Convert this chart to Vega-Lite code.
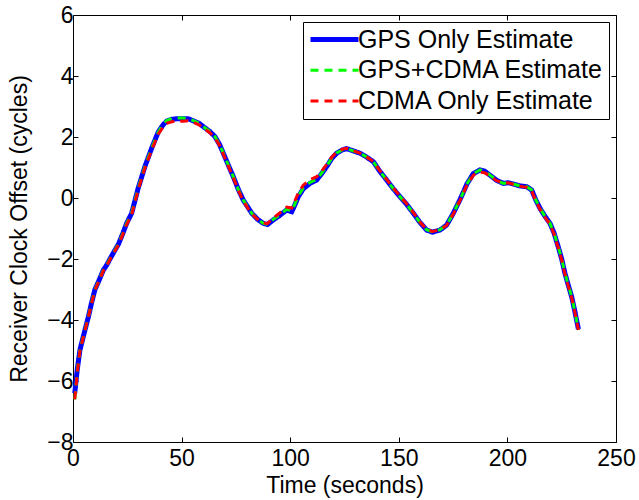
{
  "$schema": "https://vega.github.io/schema/vega-lite/v6.json",
  "autosize": {"type": "none"},
  "width": 543,
  "height": 427,
  "padding": {"left": 73, "top": 15, "right": 23, "bottom": 58},
  "background": "white",
  "config": {
    "font": "Liberation Sans",
    "view": {"stroke": null},
    "axis": {
      "grid": false,
      "domainColor": "black",
      "domainWidth": 1,
      "tickColor": "black",
      "tickWidth": 1,
      "tickSize": -5,
      "labelColor": "black",
      "labelFontSize": 23,
      "labelFlush": false,
      "labelOverlap": false,
      "titleColor": "black",
      "titleFontSize": 23,
      "titleFontWeight": "normal"
    },
    "legend": {
      "orient": "top-right",
      "offset": 7,
      "strokeColor": "black",
      "strokeWidth": 1,
      "fillColor": "white",
      "padding": 5,
      "cornerRadius": 0,
      "labelFontSize": 25,
      "labelColor": "black",
      "labelLimit": 400,
      "labelOffset": 11,
      "symbolType": "M-1.6,0H1.6",
      "symbolSize": 900,
      "symbolOffset": 14,
      "symbolStrokeWidth": 3,
      "rowPadding": 4.7
    }
  },
  "datasets": {
    "curves": [
      {"t": 0.8, "gps": -6.4, "both": -6.6, "cdma": -6.6},
      {"t": 2, "gps": -5.6, "both": -5.65, "cdma": -5.7},
      {"t": 3.2, "gps": -4.98, "both": -4.98, "cdma": -5.0},
      {"t": 5.5, "gps": -4.33, "both": -4.33, "cdma": -4.35},
      {"t": 7.1, "gps": -3.89, "both": -3.89, "cdma": -3.9},
      {"t": 8.5, "gps": -3.45, "both": -3.45, "cdma": -3.47},
      {"t": 10.1, "gps": -3.0, "both": -3.0, "cdma": -3.02},
      {"t": 12, "gps": -2.7, "both": -2.7, "cdma": -2.72},
      {"t": 14, "gps": -2.36, "both": -2.36, "cdma": -2.38},
      {"t": 15.5, "gps": -2.2, "both": -2.2, "cdma": -2.22},
      {"t": 17, "gps": -2.0, "both": -2.0, "cdma": -2.02},
      {"t": 19, "gps": -1.75, "both": -1.75, "cdma": -1.77},
      {"t": 21, "gps": -1.5, "both": -1.5, "cdma": -1.53},
      {"t": 23, "gps": -1.15, "both": -1.15, "cdma": -1.18},
      {"t": 24.7, "gps": -0.83, "both": -0.83, "cdma": -0.87},
      {"t": 27, "gps": -0.5, "both": -0.5, "cdma": -0.55},
      {"t": 30, "gps": 0.32, "both": 0.32, "cdma": 0.27},
      {"t": 33.1, "gps": 1.03, "both": 1.03, "cdma": 0.98},
      {"t": 36.2, "gps": 1.63, "both": 1.63, "cdma": 1.57},
      {"t": 39.3, "gps": 2.17, "both": 2.17, "cdma": 2.1},
      {"t": 41.5, "gps": 2.4, "both": 2.42, "cdma": 2.33},
      {"t": 43.1, "gps": 2.52, "both": 2.54, "cdma": 2.45},
      {"t": 45.5, "gps": 2.58, "both": 2.6, "cdma": 2.5},
      {"t": 48, "gps": 2.6, "both": 2.62, "cdma": 2.52},
      {"t": 50.8, "gps": 2.6, "both": 2.62, "cdma": 2.52},
      {"t": 53, "gps": 2.6, "both": 2.61, "cdma": 2.53},
      {"t": 55.4, "gps": 2.53, "both": 2.54, "cdma": 2.48},
      {"t": 58, "gps": 2.45, "both": 2.45, "cdma": 2.4},
      {"t": 60, "gps": 2.34, "both": 2.34, "cdma": 2.3},
      {"t": 63, "gps": 2.18, "both": 2.18, "cdma": 2.14},
      {"t": 65.4, "gps": 2.01, "both": 2.01, "cdma": 1.97},
      {"t": 67.5, "gps": 1.75, "both": 1.75, "cdma": 1.72},
      {"t": 69.2, "gps": 1.47, "both": 1.47, "cdma": 1.44},
      {"t": 71.5, "gps": 1.08, "both": 1.08, "cdma": 1.05},
      {"t": 73.8, "gps": 0.7, "both": 0.7, "cdma": 0.67},
      {"t": 76, "gps": 0.3, "both": 0.3, "cdma": 0.27},
      {"t": 78.4, "gps": -0.07, "both": -0.07, "cdma": -0.1},
      {"t": 80.5, "gps": -0.3, "both": -0.3, "cdma": -0.33},
      {"t": 82.3, "gps": -0.5, "both": -0.5, "cdma": -0.52},
      {"t": 85, "gps": -0.7, "both": -0.7, "cdma": -0.7},
      {"t": 87.6, "gps": -0.83, "both": -0.83, "cdma": -0.82},
      {"t": 89.5, "gps": -0.87, "both": -0.86, "cdma": -0.84},
      {"t": 92.2, "gps": -0.72, "both": -0.7, "cdma": -0.66},
      {"t": 95, "gps": -0.58, "both": -0.56, "cdma": -0.5},
      {"t": 98.4, "gps": -0.39, "both": -0.37, "cdma": -0.3},
      {"t": 100.7, "gps": -0.45, "both": -0.42, "cdma": -0.33},
      {"t": 102, "gps": -0.25, "both": -0.22, "cdma": -0.12},
      {"t": 103.7, "gps": 0.04, "both": 0.07, "cdma": 0.16},
      {"t": 106, "gps": 0.3, "both": 0.33, "cdma": 0.42},
      {"t": 109.1, "gps": 0.48, "both": 0.51, "cdma": 0.6},
      {"t": 112.2, "gps": 0.59, "both": 0.62, "cdma": 0.7},
      {"t": 114.5, "gps": 0.8, "both": 0.82, "cdma": 0.88},
      {"t": 116.8, "gps": 1.03, "both": 1.05, "cdma": 1.1},
      {"t": 119, "gps": 1.28, "both": 1.29, "cdma": 1.33},
      {"t": 121.4, "gps": 1.47, "both": 1.48, "cdma": 1.5},
      {"t": 124, "gps": 1.58, "both": 1.58, "cdma": 1.6},
      {"t": 126, "gps": 1.62, "both": 1.62, "cdma": 1.63},
      {"t": 128, "gps": 1.57, "both": 1.57, "cdma": 1.58},
      {"t": 132.1, "gps": 1.47, "both": 1.47, "cdma": 1.47},
      {"t": 135, "gps": 1.35, "both": 1.35, "cdma": 1.35},
      {"t": 138.3, "gps": 1.19, "both": 1.19, "cdma": 1.2},
      {"t": 141, "gps": 0.9, "both": 0.9, "cdma": 0.92},
      {"t": 144.4, "gps": 0.59, "both": 0.59, "cdma": 0.61},
      {"t": 147.5, "gps": 0.3, "both": 0.3, "cdma": 0.32},
      {"t": 150.6, "gps": 0.04, "both": 0.04, "cdma": 0.06},
      {"t": 153.5, "gps": -0.2, "both": -0.2, "cdma": -0.18},
      {"t": 156.7, "gps": -0.5, "both": -0.5, "cdma": -0.48},
      {"t": 159.5, "gps": -0.78, "both": -0.78, "cdma": -0.77},
      {"t": 162.8, "gps": -1.05, "both": -1.04, "cdma": -1.03},
      {"t": 165.5, "gps": -1.12, "both": -1.11, "cdma": -1.1},
      {"t": 169, "gps": -1.05, "both": -1.04, "cdma": -1.04},
      {"t": 172, "gps": -0.89, "both": -0.89, "cdma": -0.9},
      {"t": 175.1, "gps": -0.5, "both": -0.5, "cdma": -0.52},
      {"t": 178.2, "gps": -0.05, "both": -0.05, "cdma": -0.08},
      {"t": 181.3, "gps": 0.45, "both": 0.45, "cdma": 0.41},
      {"t": 184.3, "gps": 0.8, "both": 0.8, "cdma": 0.75},
      {"t": 187.4, "gps": 0.92, "both": 0.92, "cdma": 0.85},
      {"t": 189.5, "gps": 0.88, "both": 0.88, "cdma": 0.83},
      {"t": 192, "gps": 0.75, "both": 0.75, "cdma": 0.72},
      {"t": 195, "gps": 0.58, "both": 0.58, "cdma": 0.57},
      {"t": 198.1, "gps": 0.48, "both": 0.48, "cdma": 0.49},
      {"t": 200.5, "gps": 0.5, "both": 0.5, "cdma": 0.5},
      {"t": 202.7, "gps": 0.46, "both": 0.46, "cdma": 0.45},
      {"t": 205.5, "gps": 0.4, "both": 0.4, "cdma": 0.39},
      {"t": 208.9, "gps": 0.37, "both": 0.37, "cdma": 0.35},
      {"t": 211.2, "gps": 0.26, "both": 0.26, "cdma": 0.23},
      {"t": 213, "gps": -0.05, "both": -0.05, "cdma": -0.08},
      {"t": 215, "gps": -0.34, "both": -0.34, "cdma": -0.37},
      {"t": 217.5, "gps": -0.62, "both": -0.62, "cdma": -0.65},
      {"t": 219.6, "gps": -0.83, "both": -0.83, "cdma": -0.86},
      {"t": 221.5, "gps": -1.15, "both": -1.15, "cdma": -1.18},
      {"t": 223.4, "gps": -1.6, "both": -1.6, "cdma": -1.63},
      {"t": 225, "gps": -2.0, "both": -2.0, "cdma": -2.03},
      {"t": 226.5, "gps": -2.47, "both": -2.47, "cdma": -2.5},
      {"t": 228, "gps": -2.85, "both": -2.85, "cdma": -2.88},
      {"t": 229.6, "gps": -3.24, "both": -3.24, "cdma": -3.27},
      {"t": 231, "gps": -3.7, "both": -3.7, "cdma": -3.72},
      {"t": 232.7, "gps": -4.3, "both": -4.33, "cdma": -4.33}
    ]
  },
  "data": {"name": "curves"},
  "transform": [
    {"fold": ["gps", "both", "cdma"], "as": ["key", "v"]},
    {"calculate": "datum.key === 'gps' ? 'GPS Only Estimate' : datum.key === 'both' ? 'GPS+CDMA Estimate' : 'CDMA Only Estimate'", "as": "series"}
  ],
  "encoding": {
    "x": {"field": "t", "type": "quantitative"},
    "y": {"field": "v", "type": "quantitative"},
    "color": {
      "field": "series",
      "type": "nominal",
      "scale": {
        "domain": ["GPS Only Estimate", "GPS+CDMA Estimate", "CDMA Only Estimate"],
        "range": ["#0000ff", "#00ff00", "#ff0000"]
      },
      "legend": {
        "title": null,
        "strokeColor": "black",
        "fillColor": "white",
        "encode": {
          "symbols": {"update": {"strokeWidth": {"signal": "datum.value === 'GPS Only Estimate' ? 5 : 3"}}}
        }
      }
    },
    "strokeDash": {
      "field": "series",
      "type": "nominal",
      "scale": {
        "domain": ["GPS Only Estimate", "GPS+CDMA Estimate", "CDMA Only Estimate"],
        "range": [[1, 0], [8, 6], [8, 6]]
      },
      "legend": {"title": null, "strokeColor": "black", "fillColor": "white"}
    }
  },
  "layer": [
    {
      "transform": [{"filter": "datum.key === 'gps'"}],
      "mark": {"type": "line", "strokeWidth": 5},
      "encoding": {
        "x": {
          "field": "t", "type": "quantitative",
          "scale": {"domain": [0, 250], "nice": false},
          "axis": {"orient": "bottom", "values": [0, 50, 100, 150, 200, 250], "title": "Time (seconds)", "labelPadding": 10, "titlePadding": 4}
        },
        "y": {
          "field": "v", "type": "quantitative",
          "scale": {"domain": [-8, 6], "nice": false},
          "axis": {"orient": "left", "values": [-8, -6, -4, -2, 0, 2, 4, 6], "title": "Receiver Clock Offset (cycles)", "labelPadding": 5, "titlePadding": 15}
        }
      }
    },
    {
      "transform": [{"filter": "datum.key === 'both'"}],
      "mark": {"type": "line", "strokeWidth": 3},
      "encoding": {
        "x": {
          "field": "t", "type": "quantitative",
          "axis": {"orient": "top", "values": [0, 50, 100, 150, 200, 250], "labels": false, "title": null}
        },
        "y": {
          "field": "v", "type": "quantitative",
          "axis": {"orient": "right", "values": [-8, -6, -4, -2, 0, 2, 4, 6], "labels": false, "title": null}
        }
      }
    },
    {
      "transform": [{"filter": "datum.key === 'cdma'"}],
      "mark": {"type": "line", "strokeWidth": 3},
      "encoding": {
        "x": {"field": "t", "type": "quantitative", "axis": null},
        "y": {"field": "v", "type": "quantitative", "axis": null}
      }
    }
  ],
  "resolve": {"axis": {"x": "independent", "y": "independent"}}
}
